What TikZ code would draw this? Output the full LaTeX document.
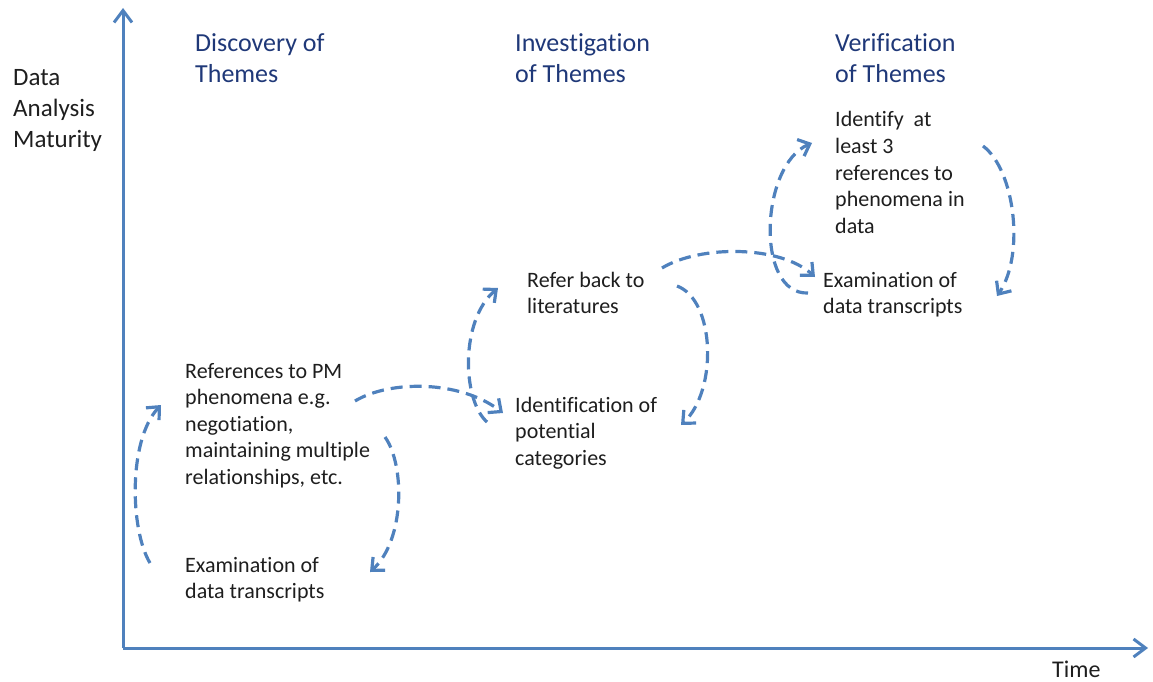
\documentclass[tikz,border=0pt]{standalone}
\usepackage{fontspec}
\setmainfont[Ligatures=NoCommon]{Carlito}
\usetikzlibrary{arrows.meta}
\definecolor{axisblue}{RGB}{79,129,189}
\definecolor{headnavy}{RGB}{31,56,120}
\definecolor{bodytext}{RGB}{30,30,30}
\newcommand\mlines[1]{\begin{tabular}[t]{@{}l@{}}#1\end{tabular}}
\tikzset{
  axisline/.style={draw=axisblue, line width=3pt, -{Straight Barb[length=12pt,width=18pt]}},
  flow/.style={draw=axisblue, line width=3.2pt, dash pattern=on 12pt off 7pt, -{Straight Barb[length=10pt,width=18pt]}},
  bodylbl/.style={anchor=base west, inner sep=0pt, text=bodytext, font=\fontsize{22}{26.6}\selectfont},
  headlbl/.style={anchor=base west, inner sep=0pt, text=headnavy, font=\fontsize{26}{31}\selectfont},
  axislbl/.style={anchor=base west, inner sep=0pt, text=bodytext, font=\fontsize{25}{30.7}\selectfont}
}
\begin{document}
\begin{tikzpicture}[x=1pt,y=-1pt]
\useasboundingbox (0,0) rectangle (1153,682);
% axes
\coordinate (origin) at (123,648);
\coordinate (ytip) at (123,8);
\coordinate (xtip) at (1148,648);
\draw[axisline] (origin) -- (ytip);
\draw[axisline] (origin) -- (xtip);
% axis labels
\node[axislbl] (ylab) at (13,86) {\mlines{Data\\Analysis\\Maturity}};
\node[axislbl, font=\fontsize{24}{30}\selectfont] (time) at (1052,677) {Time};
% headings
\node[headlbl] (h1) at (195,52) {\mlines{Discovery of\\Themes}};
\node[headlbl] (h2) at (515,52) {\mlines{Investigation\\of Themes}};
\node[headlbl] (h3) at (835,52) {\mlines{Verification\\of Themes}};
% body texts
\node[bodylbl] (refs) at (185,378) {\mlines{References to PM\\phenomena e.g.\\negotiation,\\maintaining multiple\\relationships, etc.}};
\node[bodylbl] (exam1) at (185,572) {\mlines{Examination of\\data transcripts}};
\node[bodylbl] (refer) at (527,287) {\mlines{Refer back to\\literatures}};
\node[bodylbl] (ident) at (515,412) {\mlines{Identification of\\potential\\categories}};
\node[bodylbl] (identify) at (835,127) {\mlines{Identify\ \ at\\least 3\\references to\\phenomena in\\data}};
\node[bodylbl] (exam2) at (823,287) {\mlines{Examination of\\data transcripts}};
% connector end points
\coordinate (c1s) at (150,563); \coordinate (c1e) at (161,405);
\coordinate (c2s) at (355,401); \coordinate (c2e) at (503,413);
\coordinate (c3s) at (385,437); \coordinate (c3e) at (370,572);
\coordinate (c4s) at (487,422); \coordinate (c4e) at (498,288);
\coordinate (c5s) at (677,286); \coordinate (c5e) at (681,425);
\coordinate (c6s) at (662,268); \coordinate (c6e) at (815,277);
\coordinate (c7s) at (808,293); \coordinate (c7e) at (812,143);
\coordinate (c8s) at (983,146); \coordinate (c8e) at (997,296);
% dashed flows
\draw[flow] (c1s) .. controls (130,530) and (128,440) .. (c1e);
\draw[flow] (c2s) .. controls (390,380) and (460,380) .. (c2e);
\draw[flow] (c3s) .. controls (405,465) and (405,540) .. (c3e);
\draw[flow] (c4s) .. controls (462,400) and (460,320) .. (c4e);
\draw[flow] (c5s) .. controls (715,300) and (718,390) .. (c5e);
\draw[flow] (c6s) .. controls (700,245) and (780,245) .. (c6e);
\draw[flow] (c7s) .. controls (755,295) and (760,165) .. (c7e);
\draw[flow] (c8s) .. controls (1015,170) and (1025,255) .. (c8e);
\end{tikzpicture}
\end{document}
